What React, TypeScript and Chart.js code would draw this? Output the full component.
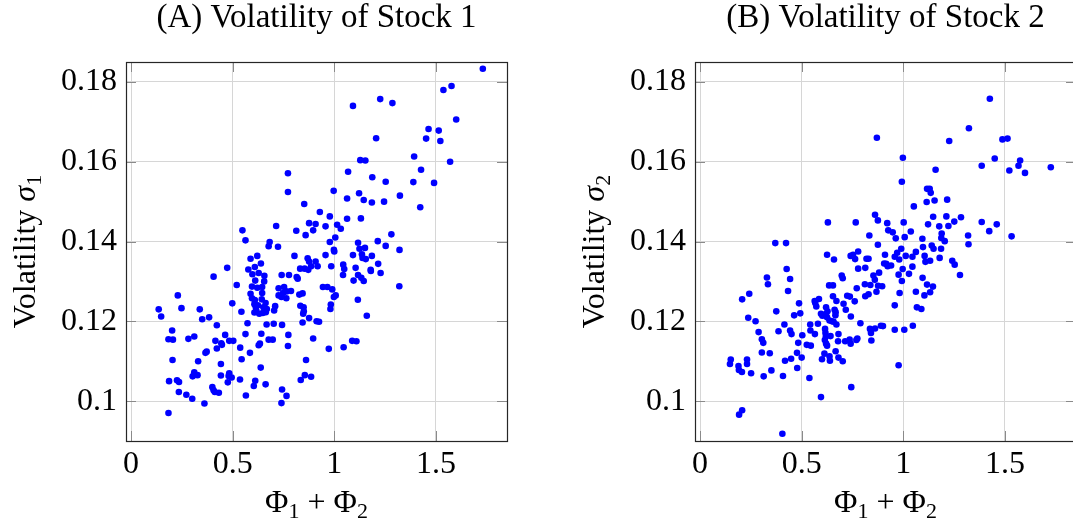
import { useEffect, useRef } from "react";
import { Chart, registerables } from "chart.js";

Chart.register(...registerables);

const FONT = '"Liberation Serif", "Times New Roman", serif';

const chartTitles = ["(A) Volatility of Stock 1", "(B) Volatility of Stock 2"];
const xAxisTitleParts = ["Φ", "1", " + ", "Φ", "2"];
const yAxisTitleBase = "Volatility ";
const yAxisSymbol = "σ";
const yAxisIndices = ["1", "2"];

const xTicks = [0, 0.5, 1, 1.5];
const xTickLabels = ["0", "0.5", "1", "1.5"];
const yTicks = [0.1, 0.12, 0.14, 0.16, 0.18];
const yTickLabels = ["0.1", "0.12", "0.14", "0.16", "0.18"];
const xRange = [-0.025, 1.85];
const yRange = [0.09, 0.185];

// Stock 1: (Phi1 + Phi2, sigma1)
const stock1X = [
  1.731, 1.537, 1.577, 1.092, 1.226, 1.286, 1.6, 1.464, 1.514, 1.452, 1.522, 1.206, 1.393, 1.57, 1.128, 1.153,
  0.772, 1.068, 1.427, 1.187, 1.253, 1.389, 1.491, 0.772, 0.997, 1.122, 1.323, 1.063, 1.145, 1.185, 1.245, 0.852,
  1.423, 0.929, 0.978, 1.131, 1.063, 0.876, 0.908, 0.957, 1.014, 0.548, 0.714, 0.813, 0.896, 1.032, 0.563, 0.859,
  1.005, 0.978, 1.117, 1.214, 1.281, 0.682, 0.677, 0.723, 1.151, 1.253, 1.124, 1.136, 1.139, 1.155, 1.092, 1.185,
  1.216, 1.179, 1.18, 1.228, 1.321, 0.998, 1.0, 0.621, 0.588, 0.804, 0.869, 0.876, 0.957, 0.908, 0.918, 0.985,
  0.639, 0.609, 0.577, 0.597, 0.628, 0.656, 0.655, 0.611, 0.741, 0.777, 0.815, 0.82, 0.832, 0.854, 0.872, 0.886,
  1.044, 1.049, 1.043, 1.105, 1.117, 1.133, 1.145, 1.095, 1.32, 0.406, 0.473, 0.52, 0.595, 0.621, 0.645, 0.726,
  0.753, 0.765, 0.787, 0.828, 0.844, 0.944, 0.966, 0.99, 0.998, 1.007, 0.588, 0.595, 0.645, 0.643, 0.662, 0.609,
  0.607, 0.624, 0.614, 0.651, 0.668, 0.616, 0.607, 0.631, 0.648, 0.663, 0.726, 0.74, 0.748, 0.764, 0.709, 0.704,
  0.833, 0.849, 0.85, 0.847, 0.983, 0.981, 1.116, 0.498, 0.543, 0.384, 0.35, 0.338, 0.248, 0.136, 0.148, 0.422,
  0.573, 0.702, 0.743, 0.844, 0.876, 0.913, 0.925, 1.16, 0.202, 0.184, 0.206, 0.282, 0.311, 0.415, 0.422, 0.463,
  0.444, 0.447, 0.483, 0.503, 0.563, 0.641, 0.677, 0.697, 0.774, 0.896, 0.628, 0.634, 0.772, 0.537, 0.585, 0.973,
  1.046, 1.088, 1.109, 0.372, 0.366, 0.204, 0.33, 0.442, 0.544, 0.638, 0.861, 0.311, 0.303, 0.327, 0.442, 0.483,
  0.48, 0.495, 0.536, 0.476, 0.611, 0.662, 0.835, 0.855, 0.886, 0.187, 0.226, 0.236, 0.235, 0.272, 0.301, 0.361,
  0.4, 0.406, 0.412, 0.432, 0.604, 0.565, 0.743, 0.765, 0.74, 0.184, 0.23, 0.667,
];
const stock1Y = [
  0.1833, 0.178, 0.179, 0.174, 0.1757, 0.1747, 0.1706, 0.1682, 0.1678, 0.1658, 0.1652, 0.1659, 0.1613, 0.16, 0.1604, 0.1603,
  0.1571, 0.1575, 0.158, 0.1561, 0.155, 0.1549, 0.1547, 0.1524, 0.1527, 0.1521, 0.1515, 0.1508, 0.1504, 0.1498, 0.15, 0.1494,
  0.1486, 0.1474, 0.1463, 0.1458, 0.1457, 0.1446, 0.1444, 0.1438, 0.1442, 0.1428, 0.1439, 0.1427, 0.1428, 0.1432, 0.1403, 0.1416,
  0.141, 0.1399, 0.1397, 0.1401, 0.1418, 0.1399, 0.1388, 0.1387, 0.1384, 0.1389, 0.1382, 0.1368, 0.1359, 0.1356, 0.1366, 0.1364,
  0.1344, 0.1329, 0.1326, 0.1321, 0.1379, 0.1379, 0.1375, 0.1364, 0.1357, 0.1364, 0.1358, 0.135, 0.1366, 0.135, 0.1338, 0.1338,
  0.1345, 0.1336, 0.133, 0.1318, 0.1321, 0.1314, 0.13, 0.1302, 0.1316, 0.1316, 0.1311, 0.1307, 0.1332, 0.1332, 0.1329, 0.1338,
  0.1342, 0.1331, 0.1316, 0.1334, 0.1316, 0.1309, 0.1301, 0.1302, 0.1288, 0.1312, 0.1334, 0.1291, 0.1287, 0.1284, 0.1286, 0.1283,
  0.1286, 0.1275, 0.1276, 0.1267, 0.127, 0.1286, 0.1286, 0.128, 0.1261, 0.1265, 0.1269, 0.1258, 0.1271, 0.1255, 0.1246, 0.1253,
  0.1243, 0.124, 0.1235, 0.1235, 0.1231, 0.1227, 0.1222, 0.1219, 0.1221, 0.1223, 0.1265, 0.1261, 0.1271, 0.1258, 0.1238, 0.1227,
  0.1239, 0.1235, 0.1225, 0.1219, 0.1242, 0.1231, 0.1254, 0.1245, 0.1224, 0.121, 0.1205, 0.123, 0.1233, 0.123, 0.1212, 0.119,
  0.1195, 0.1194, 0.1191, 0.1197, 0.1208, 0.12, 0.1199, 0.1214, 0.1177, 0.1155, 0.1154, 0.1156, 0.1162, 0.1151, 0.1132, 0.1166,
  0.1145, 0.1141, 0.1151, 0.1151, 0.1168, 0.1169, 0.1154, 0.1154, 0.1166, 0.1157, 0.114, 0.1144, 0.1138, 0.1134, 0.1121, 0.1131,
  0.1135, 0.1151, 0.115, 0.1124, 0.1121, 0.1103, 0.11, 0.1093, 0.1105, 0.1084, 0.1103, 0.1072, 0.1062, 0.1065, 0.1064, 0.107,
  0.1063, 0.1059, 0.1054, 0.1047, 0.1051, 0.1042, 0.1053, 0.1065, 0.1061, 0.105, 0.1052, 0.1048, 0.1023, 0.1016, 0.1006, 0.0994,
  0.1035, 0.1027, 0.1023, 0.1021, 0.1038, 0.1014, 0.1029, 0.1013, 0.0995, 0.097, 0.1265, 0.1192,
];

// Stock 2: (Phi1 + Phi2, sigma2)
const stock2X = [
  1.426, 1.323, 0.87, 1.226, 1.488, 1.513, 0.998, 1.45, 1.386, 1.575, 1.567, 1.522, 1.599, 1.726, 1.159, 0.993,
  1.13, 1.117, 1.135, 1.115, 1.154, 1.216, 1.052, 0.861, 0.875, 0.921, 1.002, 0.629, 0.766, 1.147, 1.212, 1.251,
  1.284, 1.122, 1.177, 1.222, 1.386, 1.46, 1.423, 1.533, 1.319, 1.321, 0.926, 0.948, 0.963, 1.037, 1.007, 0.833,
  1.094, 1.189, 1.187, 1.204, 1.14, 1.149, 1.186, 1.097, 0.875, 0.99, 0.97, 0.98, 0.958, 1.012, 1.062, 1.045,
  0.778, 0.753, 0.741, 0.763, 0.625, 0.659, 0.819, 0.829, 0.91, 0.906, 0.923, 0.916, 0.94, 0.881, 0.997, 1.045,
  1.028, 0.977, 0.993, 1.095, 1.105, 1.109, 1.132, 1.179, 1.241, 1.253, 1.279, 0.813, 0.778, 0.697, 0.702, 0.853,
  0.86, 0.811, 0.838, 0.876, 0.896, 1.117, 1.146, 1.132, 1.104, 1.062, 0.982, 0.868, 0.771, 0.635, 0.654, 0.654,
  0.671, 0.724, 0.737, 0.761, 0.813, 0.829, 0.706, 0.426, 0.443, 0.329, 0.334, 0.433, 0.37, 0.423, 0.242, 0.207,
  0.375, 0.237, 0.273, 0.463, 0.493, 0.487, 0.564, 0.585, 0.567, 0.572, 0.595, 0.602, 0.615, 0.619, 0.625, 0.637,
  0.649, 0.657, 0.62, 0.627, 0.662, 0.667, 0.666, 0.717, 0.742, 0.958, 1.067, 1.089, 0.415, 0.386, 0.443, 0.45,
  0.503, 0.542, 0.543, 0.565, 0.58, 0.615, 0.617, 0.619, 0.642, 0.671, 0.681, 0.679, 0.714, 0.736, 0.741, 0.769,
  0.774, 0.789, 0.836, 0.841, 0.843, 0.861, 0.89, 0.9, 0.958, 1.005, 1.047, 0.288, 0.304, 0.311, 0.304, 0.343,
  0.483, 0.525, 0.545, 0.614, 0.62, 0.625, 0.612, 0.637, 0.639, 0.6, 0.667, 0.681, 0.702, 0.477, 0.5, 0.448,
  0.418, 0.151, 0.147, 0.189, 0.231, 0.231, 0.191, 0.206, 0.251, 0.351, 0.313, 0.408, 0.478, 0.538, 0.744, 0.595,
  0.977, 0.207, 0.192, 0.405,
];
const stock2Y = [
  0.1758, 0.1684, 0.166, 0.1652, 0.1656, 0.1658, 0.161, 0.1608, 0.159, 0.1603, 0.159, 0.1578, 0.1572, 0.1586, 0.158, 0.155,
  0.1532, 0.1532, 0.1522, 0.1499, 0.1503, 0.1505, 0.1488, 0.1467, 0.1453, 0.1446, 0.1448, 0.1448, 0.1448, 0.1462, 0.1463, 0.145,
  0.1461, 0.1443, 0.1438, 0.1439, 0.1449, 0.1443, 0.1426, 0.1413, 0.1415, 0.1393, 0.1428, 0.1423, 0.1408, 0.1425, 0.1411, 0.1415,
  0.1407, 0.142, 0.1409, 0.1401, 0.139, 0.1382, 0.1382, 0.1386, 0.1392, 0.1382, 0.1372, 0.1355, 0.1362, 0.1364, 0.1374, 0.1362,
  0.1375, 0.1367, 0.1364, 0.1356, 0.1367, 0.1355, 0.1357, 0.1357, 0.1367, 0.1345, 0.1338, 0.1344, 0.134, 0.1322, 0.1331, 0.1337,
  0.1319, 0.1317, 0.1301, 0.1309, 0.1364, 0.1349, 0.1352, 0.1359, 0.1352, 0.1342, 0.1316, 0.1334, 0.1332, 0.1315, 0.1308, 0.1315,
  0.1304, 0.1293, 0.1291, 0.1289, 0.1288, 0.1292, 0.1287, 0.1273, 0.1265, 0.1274, 0.1271, 0.1274, 0.1283, 0.129, 0.129, 0.1263,
  0.1251, 0.1264, 0.1262, 0.125, 0.1263, 0.1268, 0.1244, 0.1331, 0.1306, 0.131, 0.1293, 0.1276, 0.1396, 0.1396, 0.1269, 0.1255,
  0.1225, 0.1209, 0.12, 0.1215, 0.122, 0.1245, 0.1251, 0.1256, 0.1246, 0.1237, 0.1219, 0.1214, 0.1215, 0.1218, 0.121, 0.1202,
  0.12, 0.1199, 0.1235, 0.1225, 0.1229, 0.1223, 0.1215, 0.1229, 0.1212, 0.124, 0.1235, 0.1231, 0.1192, 0.1175, 0.1177, 0.1168,
  0.1165, 0.1192, 0.1177, 0.1168, 0.1194, 0.1181, 0.1171, 0.1162, 0.1163, 0.1192, 0.1168, 0.115, 0.115, 0.1154, 0.1144, 0.1153,
  0.1157, 0.1195, 0.1181, 0.1171, 0.1152, 0.1182, 0.1189, 0.1188, 0.1179, 0.1179, 0.1189, 0.1173, 0.1155, 0.1146, 0.1122, 0.112,
  0.1146, 0.1141, 0.1139, 0.1153, 0.1144, 0.1139, 0.1119, 0.1112, 0.1101, 0.1105, 0.1125, 0.1109, 0.11, 0.1121, 0.1109, 0.1106,
  0.1101, 0.1104, 0.1093, 0.1088, 0.1104, 0.1093, 0.1078, 0.1073, 0.107, 0.1077, 0.1062, 0.1063, 0.1083, 0.1058, 0.1035, 0.101,
  0.109, 0.0977, 0.0966, 0.0918,
];

const W = 540;
const H = 524;

type Run = { text: string; font: string; dy: number };

function drawRuns(ctx: CanvasRenderingContext2D, runs: Run[], cx: number, baseline: number) {
  const widths = runs.map((r) => {
    ctx.font = r.font;
    return ctx.measureText(r.text).width;
  });
  const total = widths.reduce((a, b) => a + b, 0);
  let x = cx - total / 2;
  runs.forEach((r, i) => {
    ctx.font = r.font;
    ctx.fillText(r.text, x, baseline + r.dy);
    x += widths[i];
  });
}

const framePlugin = {
  id: "frameTicksTitles",
  afterDraw(chart: any, _args: any, opts: any) {
    const ctx: CanvasRenderingContext2D = chart.ctx;
    const { left, right, top, bottom } = chart.chartArea;
    const xs = chart.scales.x;
    const ys = chart.scales.y;
    ctx.save();
    // tick marks (inward, all four sides)
    ctx.strokeStyle = "#8a8a8a";
    ctx.lineWidth = 1;
    const tl = 10;
    ctx.beginPath();
    xTicks.forEach((v) => {
      const p = Math.round(xs.getPixelForValue(v)) + 0.5;
      ctx.moveTo(p, bottom);
      ctx.lineTo(p, bottom - tl);
      ctx.moveTo(p, top);
      ctx.lineTo(p, top + tl);
    });
    yTicks.forEach((v) => {
      const p = Math.round(ys.getPixelForValue(v)) + 0.5;
      ctx.moveTo(left, p);
      ctx.lineTo(left + tl, p);
      ctx.moveTo(right, p);
      ctx.lineTo(right - tl, p);
    });
    ctx.stroke();
    // frame
    ctx.strokeStyle = "#262626";
    ctx.lineWidth = 1.2;
    ctx.strokeRect(Math.round(left) + 0.5, Math.round(top) + 0.5, Math.round(right - left), Math.round(bottom - top));
    // axis titles
    ctx.fillStyle = "#000";
    ctx.textBaseline = "alphabetic";
    ctx.textAlign = "left";
    const main = `32px ${FONT}`;
    const sub = `22px ${FONT}`;
    const ital = `italic 32px ${FONT}`;
    const xRuns: Run[] = [
      { text: xAxisTitleParts[0], font: main, dy: 0 },
      { text: xAxisTitleParts[1], font: sub, dy: 6 },
      { text: xAxisTitleParts[2], font: main, dy: 0 },
      { text: xAxisTitleParts[3], font: main, dy: 0 },
      { text: xAxisTitleParts[4], font: sub, dy: 6 },
    ];
    drawRuns(ctx, xRuns, (left + right) / 2, bottom + 71);
    const yRuns: Run[] = [
      { text: yAxisTitleBase, font: main, dy: 0 },
      { text: yAxisSymbol, font: ital, dy: 0 },
      { text: opts.index, font: sub, dy: 6 },
    ];
    ctx.translate(left - 91, (top + bottom) / 2);
    ctx.rotate(-Math.PI / 2);
    drawRuns(ctx, yRuns, 0, 0);
    ctx.restore();
  },
};

function ScatterPanel(props: { xs: number[]; ys: number[]; title: string; index: string; left: number }) {
  const ref = useRef<HTMLCanvasElement>(null);
  useEffect(() => {
    const canvas = ref.current;
    if (!canvas) return;
    const points = props.xs.map((x, i) => ({ x, y: props.ys[i] }));
    const chart = new Chart(canvas, {
      type: "scatter",
      data: {
        datasets: [
          {
            data: points,
            pointRadius: 3.3,
            pointBackgroundColor: "#0000ff",
            pointBorderColor: "#0000ff",
            pointBorderWidth: 0,
            pointHoverRadius: 3.3,
          },
        ],
      },
      options: {
        animation: false,
        responsive: false,
        events: [],
        layout: { padding: { left: 0, right: 33, top: 0, bottom: 0 } },
        plugins: {
          legend: { display: false },
          tooltip: { enabled: false },
          title: {
            display: true,
            text: props.title,
            color: "#000",
            fullSize: false,
            font: { family: FONT, size: 33, weight: "normal", lineHeight: 1 },
            padding: { top: 1.6, bottom: 27.4 },
          },
          frameTicksTitles: { index: props.index },
        } as any,
        scales: {
          x: {
            type: "linear",
            min: xRange[0],
            max: xRange[1],
            afterBuildTicks: (scale: any) => {
              scale.ticks = xTicks.map((v) => ({ value: v }));
            },
            afterFit: (scale: any) => {
              scale.height = 83;
            },
            ticks: {
              color: "#000",
              padding: 8,
              font: { family: FONT, size: 32, lineHeight: 1 },
              maxRotation: 0,
              callback: (v: any) => xTickLabels[xTicks.indexOf(Number(v))] ?? "",
            },
            grid: { color: "#d6d6d6", lineWidth: 1, drawTicks: false },
            border: { display: false },
          },
          y: {
            type: "linear",
            min: yRange[0],
            max: yRange[1],
            afterBuildTicks: (scale: any) => {
              scale.ticks = yTicks.map((v) => ({ value: v }));
            },
            afterFit: (scale: any) => {
              scale.width = 126;
            },
            ticks: {
              color: "#000",
              padding: 9,
              font: { family: FONT, size: 32, lineHeight: 1 },
              callback: (v: any) => {
                const i = yTicks.findIndex((t) => Math.abs(t - Number(v)) < 1e-9);
                return i >= 0 ? yTickLabels[i] : "";
              },
            },
            grid: { color: "#d6d6d6", lineWidth: 1, drawTicks: false },
            border: { display: false },
          },
        },
      } as any,
      plugins: [framePlugin],
    });
    return () => chart.destroy();
  }, []);
  return (
    <canvas
      ref={ref}
      width={W}
      height={H}
      style={{ position: "absolute", left: props.left, top: 0, width: W, height: H }}
    />
  );
}

export default function App() {
  return (
    <div
      style={{
        position: "fixed",
        left: 0,
        top: 0,
        width: 1073,
        height: 524,
        overflow: "hidden",
        background: "#fff",
      }}
    >
      <ScatterPanel xs={stock1X} ys={stock1Y} title={chartTitles[0]} index={yAxisIndices[0]} left={0} />
      <ScatterPanel xs={stock2X} ys={stock2Y} title={chartTitles[1]} index={yAxisIndices[1]} left={569} />
    </div>
  );
}
